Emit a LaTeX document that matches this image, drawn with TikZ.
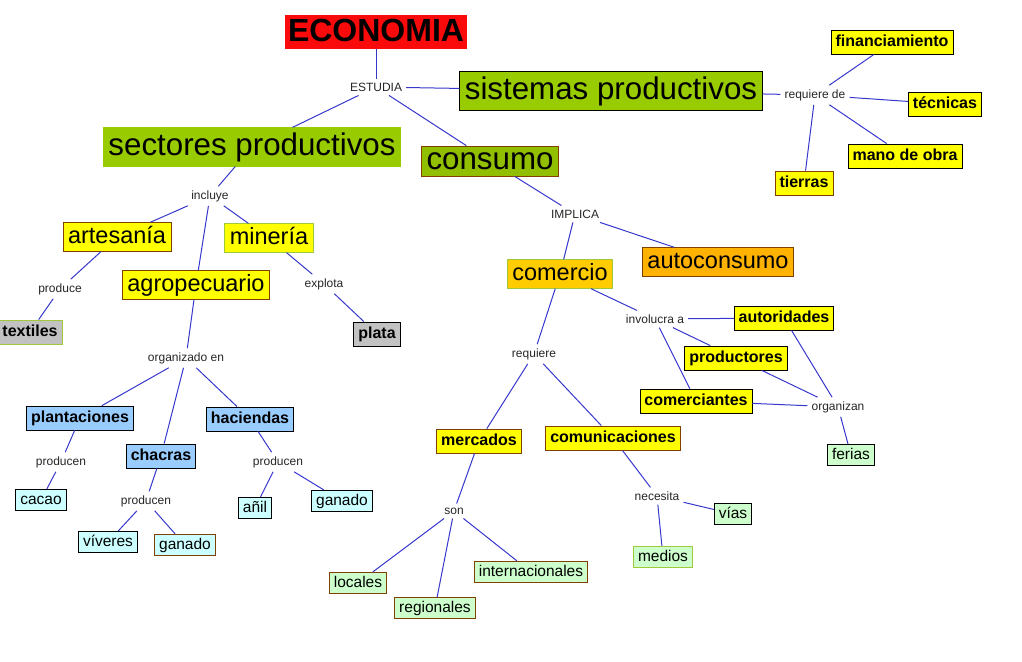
\documentclass[tikz,border=0pt]{standalone}
\usepackage{fontspec}
\setmainfont{Liberation Sans}
\definecolor{econred}{RGB}{250,10,10}
\definecolor{sysgreen}{RGB}{153,204,0}
\definecolor{consgreen}{RGB}{146,190,0}
\definecolor{conyellow}{RGB}{255,255,0}
\definecolor{comgold}{RGB}{255,204,0}
\definecolor{autoorange}{RGB}{255,178,0}
\definecolor{prodgrey}{RGB}{194,194,194}
\definecolor{agroblue}{RGB}{153,204,255}
\definecolor{leafcyan}{RGB}{204,255,255}
\definecolor{leafgreen}{RGB}{204,255,204}
\definecolor{edgebrown}{RGB}{128,64,0}
\definecolor{edgegreen}{RGB}{160,200,60}
\definecolor{linkblue}{RGB}{55,55,205}
\begin{document}
\begin{tikzpicture}[x=1pt, y=-1pt,
    link/.style={draw=linkblue, line width=1pt},
    phrase/.style={inner sep=4pt, text=black!85, font=\fontsize{12}{14}\selectfont},
    econ/.style={fill=econred, draw=econred, inner xsep=2.5pt, inner ysep=1pt,
        text height=25pt, text depth=6pt, font=\bfseries\fontsize{32}{36}\selectfont},
    bigbox/.style={fill=sysgreen, draw=black, line width=0.8pt, inner xsep=5pt, inner ysep=3.5pt,
        text height=24.5pt, text depth=7pt, font=\fontsize{31.3}{35}\selectfont},
    midbox/.style={fill=conyellow, draw=black, line width=0.8pt, inner xsep=5pt, inner ysep=2.5pt,
        text height=18pt, text depth=5.5pt, font=\fontsize{23.5}{27}\selectfont},
    boldbox/.style={fill=conyellow, draw=black, line width=0.8pt, inner xsep=4.5pt, inner ysep=4pt,
        text height=12.5pt, text depth=3.5pt, font=\bfseries\fontsize{16}{19}\selectfont},
    leafbox/.style={draw=black, line width=0.8pt, inner xsep=4.5pt, inner ysep=3pt,
        text height=12pt, text depth=3.5pt, font=\fontsize{15.5}{18}\selectfont}]
    \useasboundingbox (0,0) rectangle (1022,661);

    % Top of the map
    \node[econ] (economia) at (376,32) {ECONOMIA};
    \node[phrase] (estudia) at (376,87) {ESTUDIA};
    \node[bigbox] (sistemas) at (611,91) {sistemas productivos};
    \node[bigbox, draw=sysgreen] (sectores) at (252,147) {sectores productivos};
    \node[bigbox, fill=consgreen, draw=edgebrown, inner ysep=1pt, text height=22pt, text depth=6pt] (consumo) at (490,161) {consumo};

    % Sistemas productivos
    \node[phrase] (requierede) at (815,95) {requiere de};
    \node[boldbox] (financiamiento) at (892,42) {financiamiento};
    \node[boldbox] (tecnicas) at (945,104) {técnicas};
    \node[boldbox] (manoobra) at (905,156) {mano de obra};
    \node[boldbox, draw=edgebrown] (tierras) at (804,183) {tierras};

    % Sectores productivos
    \node[phrase] (incluye) at (210,196) {incluye};
    \node[midbox, draw=edgebrown] (artesania) at (117,237) {artesanía};
    \node[midbox, draw=edgegreen] (mineria) at (269,238) {minería};
    \node[midbox, draw=edgebrown] (agro) at (196,285) {agropecuario};
    \node[phrase] (produce) at (60,289) {produce};
    \node[boldbox, fill=prodgrey, draw=edgegreen] (textiles) at (30,332) {textiles};
    \node[phrase] (explota) at (324,284) {explota};
    \node[boldbox, fill=prodgrey] (plata) at (377,334) {plata};

    % Agropecuario
    \node[phrase] (organizado) at (186,358) {organizado en};
    \node[boldbox, fill=agroblue] (plantaciones) at (80,418) {plantaciones};
    \node[boldbox, fill=agroblue] (chacras) at (161,456) {chacras};
    \node[boldbox, fill=agroblue] (haciendas) at (250,419) {haciendas};
    \node[phrase] (producenA) at (61,462) {producen};
    \node[leafbox, fill=leafcyan] (cacao) at (41,500) {cacao};
    \node[phrase] (producenB) at (146,501) {producen};
    \node[leafbox, fill=leafcyan] (viveres) at (108,542) {víveres};
    \node[leafbox, fill=leafcyan, draw=edgebrown] (ganadoA) at (185,545) {ganado};
    \node[phrase] (producenC) at (278,462) {producen};
    \node[leafbox, fill=leafcyan] (anil) at (255,508) {añil};
    \node[leafbox, fill=leafcyan] (ganadoB) at (342,501) {ganado};

    % Consumo
    \node[phrase] (implica) at (575,214) {IMPLICA};
    \node[midbox, fill=autoorange, draw=edgebrown] (autoconsumo) at (718,262) {autoconsumo};
    \node[midbox, fill=comgold, draw=edgegreen] (comercio) at (560,274) {comercio};
    \node[phrase] (involucra) at (655,319) {involucra a};
    \node[boldbox] (autoridades) at (784,318) {autoridades};
    \node[boldbox] (productores) at (736,358) {productores};
    \node[boldbox] (comerciantes) at (696,401) {comerciantes};
    \node[phrase] (organizan) at (838,407) {organizan};
    \node[leafbox, fill=leafgreen] (ferias) at (851,455) {ferias};
    \node[phrase] (requiere) at (534,354) {requiere};
    \node[boldbox, draw=edgebrown] (mercados) at (479,441) {mercados};
    \node[boldbox, draw=edgebrown] (comunicaciones) at (613,438) {comunicaciones};
    \node[phrase] (son) at (454,511) {son};
    \node[leafbox, fill=leafgreen, draw=edgebrown] (locales) at (358,583) {locales};
    \node[leafbox, fill=leafgreen, draw=edgebrown] (regionales) at (435,608) {regionales};
    \node[leafbox, fill=leafgreen, draw=edgebrown] (internacionales) at (531,572) {internacionales};
    \node[phrase] (necesita) at (657,496) {necesita};
    \node[leafbox, fill=leafgreen] (vias) at (733,514) {vías};
    \node[leafbox, fill=leafgreen, draw=edgegreen] (medios) at (663,557) {medios};

    % Connectors
    \foreach \from/\to in {economia/estudia, estudia/sistemas, estudia/sectores, estudia/consumo,
        sistemas/requierede, requierede/financiamiento, requierede/tecnicas, requierede/manoobra, requierede/tierras,
        sectores/incluye, incluye/artesania, incluye/agro, incluye/mineria,
        artesania/produce, produce/textiles, mineria/explota, explota/plata,
        agro/organizado, organizado/plantaciones, organizado/chacras, organizado/haciendas,
        plantaciones/producenA, producenA/cacao, chacras/producenB, producenB/viveres, producenB/ganadoA,
        haciendas/producenC, producenC/anil, producenC/ganadoB,
        consumo/implica, implica/comercio, implica/autoconsumo,
        comercio/involucra, involucra/autoridades, involucra/productores, involucra/comerciantes,
        autoridades/organizan, productores/organizan, comerciantes/organizan, organizan/ferias,
        comercio/requiere, requiere/mercados, requiere/comunicaciones,
        mercados/son, son/locales, son/regionales, son/internacionales,
        comunicaciones/necesita, necesita/vias, necesita/medios}
        \draw[link] (\from) -- (\to);
\end{tikzpicture}
\end{document}
